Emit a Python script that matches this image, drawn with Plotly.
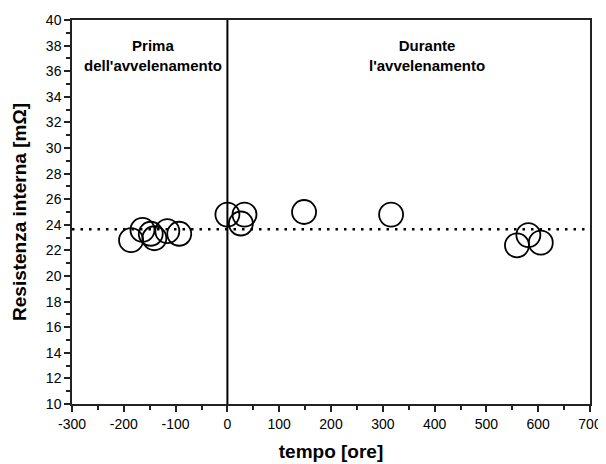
import plotly.graph_objects as go

tempo = [-186, -164, -148, -141, -116, -93, 0, 26, 33, 148, 316, 559, 581, 605]
resistenza = [22.8, 23.6, 23.3, 22.95, 23.5, 23.3, 24.8, 24.1, 24.8, 25.0, 24.8, 22.4, 23.2, 22.6]
media = 23.65
x_ticks = [-300, -200, -100, 0, 100, 200, 300, 400, 500, 600, 700]
x_labels = [str(v) for v in x_ticks]
y_ticks = list(range(10, 41, 2))
y_labels = [str(v) for v in y_ticks]

FONT = "Liberation Sans, Arial"

fig = go.Figure()
fig.add_trace(go.Scatter(
    x=tempo, y=resistenza, mode="markers",
    marker=dict(size=24, color="rgba(255,255,255,0)", line=dict(color="black", width=1.8)),
    showlegend=False,
))

fig.add_shape(type="line", xref="paper", x0=0, x1=1, yref="y", y0=media, y1=media,
              line=dict(color="black", width=2.4, dash="2.5px,6px"))
fig.add_shape(type="line", xref="x", x0=0, x1=0, yref="paper", y0=0, y1=1,
              line=dict(color="black", width=2))

font_ann = dict(family=FONT, size=15, color="black")
fig.add_annotation(x=-144, y=37.2, xref="x", yref="y", text="<b>Prima<br>dell'avvelenamento</b>",
                   showarrow=False, font=font_ann, align="center")
fig.add_annotation(x=385, y=37.2, xref="x", yref="y", text="<b>Durante<br>l'avvelenamento</b>",
                   showarrow=False, font=font_ann, align="center")

axis_common = dict(showline=True, linecolor="#222", linewidth=1.5, mirror=True,
                   ticks="outside", tickcolor="#222", ticklen=6, tickwidth=1.5,
                   showgrid=False, zeroline=False, automargin=False,
                   tickfont=dict(family=FONT, size=14, color="black"))

fig.update_xaxes(range=[-300, 700], tickvals=x_ticks, ticktext=x_labels,
                 minor=dict(dtick=50, ticks="outside", ticklen=4, tickcolor="#222", tickwidth=1.5),
                 title=dict(text="<b>tempo [ore]</b>", font=dict(family=FONT, size=19, color="black"), standoff=14),
                 **axis_common)
fig.update_yaxes(range=[10, 40], tickvals=y_ticks, ticktext=y_labels,
                 minor=dict(dtick=1, ticks="outside", ticklen=4, tickcolor="#222", tickwidth=1.5),
                 title=dict(text="<b>Resistenza interna [mΩ]</b>", font=dict(family=FONT, size=19, color="black"), standoff=14),
                 **axis_common)

fig.update_layout(width=598, height=456, margin=dict(l=64, r=16, t=12, b=60),
                  plot_bgcolor="white", paper_bgcolor="white")
fig.write_html("out.html")
